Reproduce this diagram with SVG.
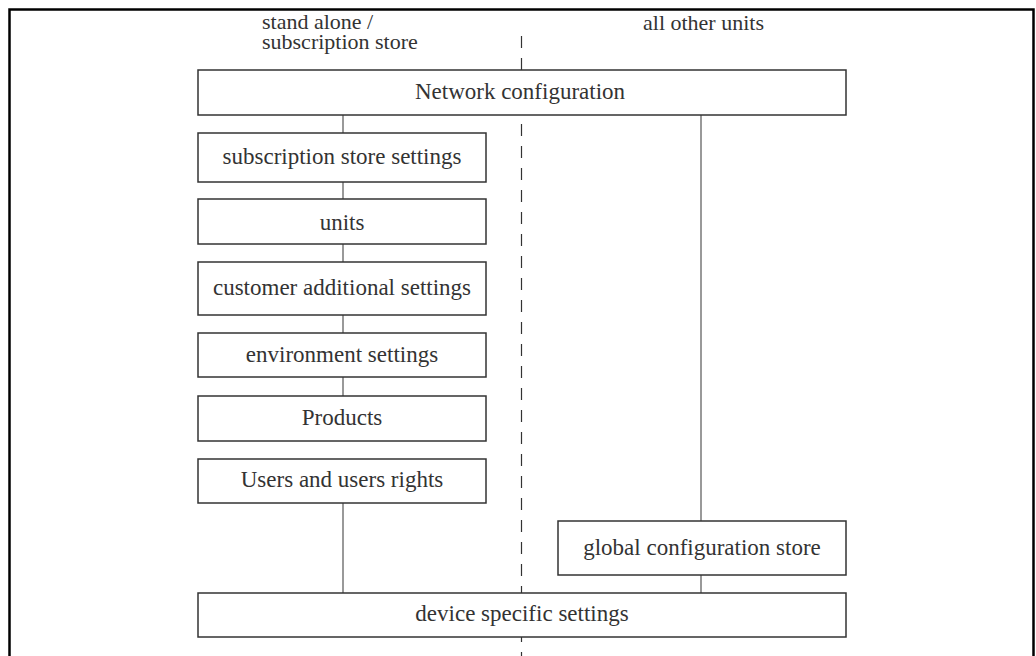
<svg xmlns="http://www.w3.org/2000/svg" width="1036" height="656" viewBox="0 0 1036 656">
<style>
  .box{fill:#fff;stroke:#333;stroke-width:1.5}
  .lbl{font-family:"Liberation Serif","Times New Roman",serif;font-size:23px;fill:#333;text-anchor:middle}
  .hdr{font-family:"Liberation Serif","Times New Roman",serif;font-size:22px;fill:#333}
  .conn{stroke:#555;stroke-width:1.2;fill:none}
</style>
<rect x="0" y="0" width="1036" height="656" fill="#fff"/>
<path d="M9.5,662 V9.5 H1033.5 V662" fill="none" stroke="#000" stroke-width="2.5"/>
<g id="headers">
  <text class="hdr" x="262" y="29">stand alone /</text>
  <text class="hdr" x="262" y="49">subscription store</text>
  <text class="hdr" x="643" y="30">all other units</text>
</g>
<line x1="521.5" y1="36" x2="521.5" y2="656" stroke="#333" stroke-width="1.2" stroke-dasharray="12,10"/>
<g id="connectors">
  <line class="conn" x1="343" y1="115" x2="343" y2="133"/>
  <line class="conn" x1="343" y1="182" x2="343" y2="199"/>
  <line class="conn" x1="343" y1="244" x2="343" y2="262"/>
  <line class="conn" x1="343" y1="315" x2="343" y2="333"/>
  <line class="conn" x1="343" y1="377" x2="343" y2="396"/>
  <line class="conn" x1="343" y1="503" x2="343" y2="593"/>
  <line class="conn" x1="701" y1="115" x2="701" y2="521"/>
  <line class="conn" x1="701" y1="575" x2="701" y2="593"/>
</g>
<g id="network">
  <rect class="box" x="198" y="70" width="648" height="45"/>
  <text class="lbl" x="520" y="99">Network configuration</text>
</g>
<g id="subscription">
  <rect class="box" x="198" y="133" width="288" height="49"/>
  <text class="lbl" x="342" y="164">subscription store settings</text>
</g>
<g id="units">
  <rect class="box" x="198" y="199" width="288" height="45"/>
  <text class="lbl" x="342" y="230">units</text>
</g>
<g id="customer">
  <rect class="box" x="198" y="262" width="288" height="53"/>
  <text class="lbl" x="342" y="295">customer additional settings</text>
</g>
<g id="environment">
  <rect class="box" x="198" y="333" width="288" height="44"/>
  <text class="lbl" x="342" y="362">environment settings</text>
</g>
<g id="products">
  <rect class="box" x="198" y="396" width="288" height="45"/>
  <text class="lbl" x="342" y="425">Products</text>
</g>
<g id="users">
  <rect class="box" x="198" y="459" width="288" height="44"/>
  <text class="lbl" x="342" y="487">Users and users rights</text>
</g>
<g id="global">
  <rect class="box" x="558" y="521" width="288" height="54"/>
  <text class="lbl" x="702" y="555">global configuration store</text>
</g>
<g id="device">
  <rect class="box" x="198" y="593" width="648" height="44"/>
  <text class="lbl" x="522" y="621">device specific settings</text>
</g>
</svg>
